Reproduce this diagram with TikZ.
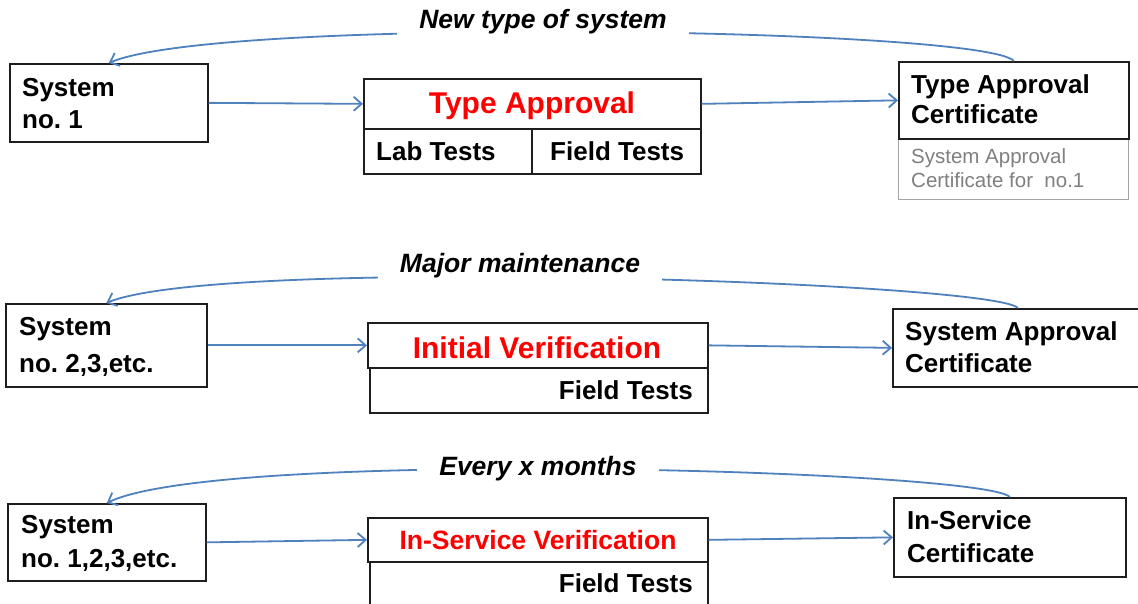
\documentclass[tikz,border=0pt]{standalone}
\usepackage{fontspec}
\setmainfont{Liberation Sans}
\usetikzlibrary{arrows.meta}
\definecolor{arrblue}{RGB}{79,129,189}
\definecolor{boxline}{RGB}{30,30,30}
\definecolor{graytxt}{RGB}{128,128,128}
\definecolor{grayline}{RGB}{165,165,165}
\frenchspacing
\begin{document}
\begin{tikzpicture}[x=1pt,y=-1pt,
  box/.style={draw=boxline, line width=1.7pt, rectangle, inner sep=0pt, anchor=north west},
  gbox/.style={draw=grayline, line width=1.3pt, rectangle, inner sep=0pt, anchor=north west},
  txt/.style={anchor=base west, inner sep=0pt, font=\fontsize{26}{30}\selectfont\bfseries},
  ttl/.style={anchor=base, inner sep=0pt, text=red, font=\fontsize{30}{34}\selectfont\bfseries},
  gtxt/.style={anchor=base west, inner sep=0pt, text=graytxt, font=\fontsize{20.5}{24}\selectfont},
  lbl/.style={fill=white, inner xsep=22pt, inner ysep=8pt, font=\fontsize{26.5}{30}\selectfont\bfseries\itshape},
  arr/.style={draw=arrblue, line width=1.8pt, -{Straight Barb[length=8pt,width=14pt]}},
]
\useasboundingbox[fill=white] (0,0) rectangle (1138,603);

% ---------- top row ----------
\node[box, minimum width=198pt, minimum height=78pt] (s1) at (9,63) {};
\node[box, minimum width=337pt, minimum height=50pt] (ta) at (363,78) {};
\node[box, minimum width=168pt, minimum height=45pt] (lab) at (363,128) {};
\node[box, minimum width=169pt, minimum height=45pt] (fld) at (531,128) {};
\node[gbox, minimum width=230pt, minimum height=61pt] (gc) at (898,138) {};
\node[box, minimum width=230pt, minimum height=77pt] (tac) at (898,61) {};

\node[txt] (s1a) at (22,96) {System};
\node[txt] (s1b) at (22,128) {no. 1};
\node[ttl] (tat) at (532,113) {Type Approval};
\node[txt] (labt) at (376,160) {Lab Tests};
\node[txt] (fldt) at (550,160) {Field Tests};
\node[txt] (taca) at (911,93) {Type Approval};
\node[txt] (tacb) at (911,123) {Certificate};
\node[gtxt] (gca) at (911,163) {System Approval};
\node[gtxt] (gcb) at (911,187) {Certificate for\ \ no.1};

\draw[arr] (s1.east) -- (ta.west);
\draw[arr] (ta.east) -- (tac.west);
\draw[arr] (tac.north) .. controls (985,28) and (220,16) .. (s1.north);
\node[lbl] (l1) at (543,22) {New type of system};

% ---------- middle row ----------
\node[box, minimum width=201pt, minimum height=83pt] (s2) at (5,303) {};
\node[box, minimum width=340pt, minimum height=45pt] (iv) at (367,322) {};
\node[box, minimum width=338pt, minimum height=45pt] (ivf) at (369,367) {};
\node[box, minimum width=250pt, minimum height=78pt] (sac) at (892,308) {};

\node[txt] (s2a) at (19,335) {System};
\node[txt] (s2b) at (19,372) {no. 2,3,etc.};
\node[ttl] (ivt) at (537,358) {Initial Verification};
\node[txt, anchor=base east] (ivft) at (693,399) {Field Tests};
\node[txt] (saca) at (905,340) {System Approval};
\node[txt] (sacb) at (905,372) {Certificate};

\draw[arr] (s2.east) -- (iv.west);
\draw[arr] (iv.east) -- (sac.west);
\draw[arr] (sac.north) .. controls (995,282) and (220,256) .. (s2.north);
\node[lbl] (l2) at (520,266) {Major maintenance};

% ---------- bottom row ----------
\node[box, minimum width=198pt, minimum height=77pt] (s3) at (7,503) {};
\node[box, minimum width=340pt, minimum height=44pt] (isv) at (367,517) {};
\node[box, minimum width=338pt, minimum height=50pt] (isvf) at (369,561) {};
\node[box, minimum width=232pt, minimum height=79pt] (isc) at (893,497) {};

\node[txt] (s3a) at (21,533) {System};
\node[txt] (s3b) at (21,567) {no. 1,2,3,etc.};
\node[ttl, font=\fontsize{26.5}{30}\selectfont\bfseries] (isvt) at (538,549) {In-Service Verification};
\node[txt, anchor=base east] (isvft) at (693,592) {Field Tests};
\node[txt] (isca) at (907,529) {In-Service};
\node[txt] (iscb) at (907,562) {Certificate};

\draw[arr] (s3.east) -- (isv.west);
\draw[arr] (isv.east) -- (isc.west);
\draw[arr] (isc.north) .. controls (985,470) and (220,448) .. (s3.north);
\node[lbl] (l3) at (538,469) {Every x months};
\end{tikzpicture}
\end{document}
